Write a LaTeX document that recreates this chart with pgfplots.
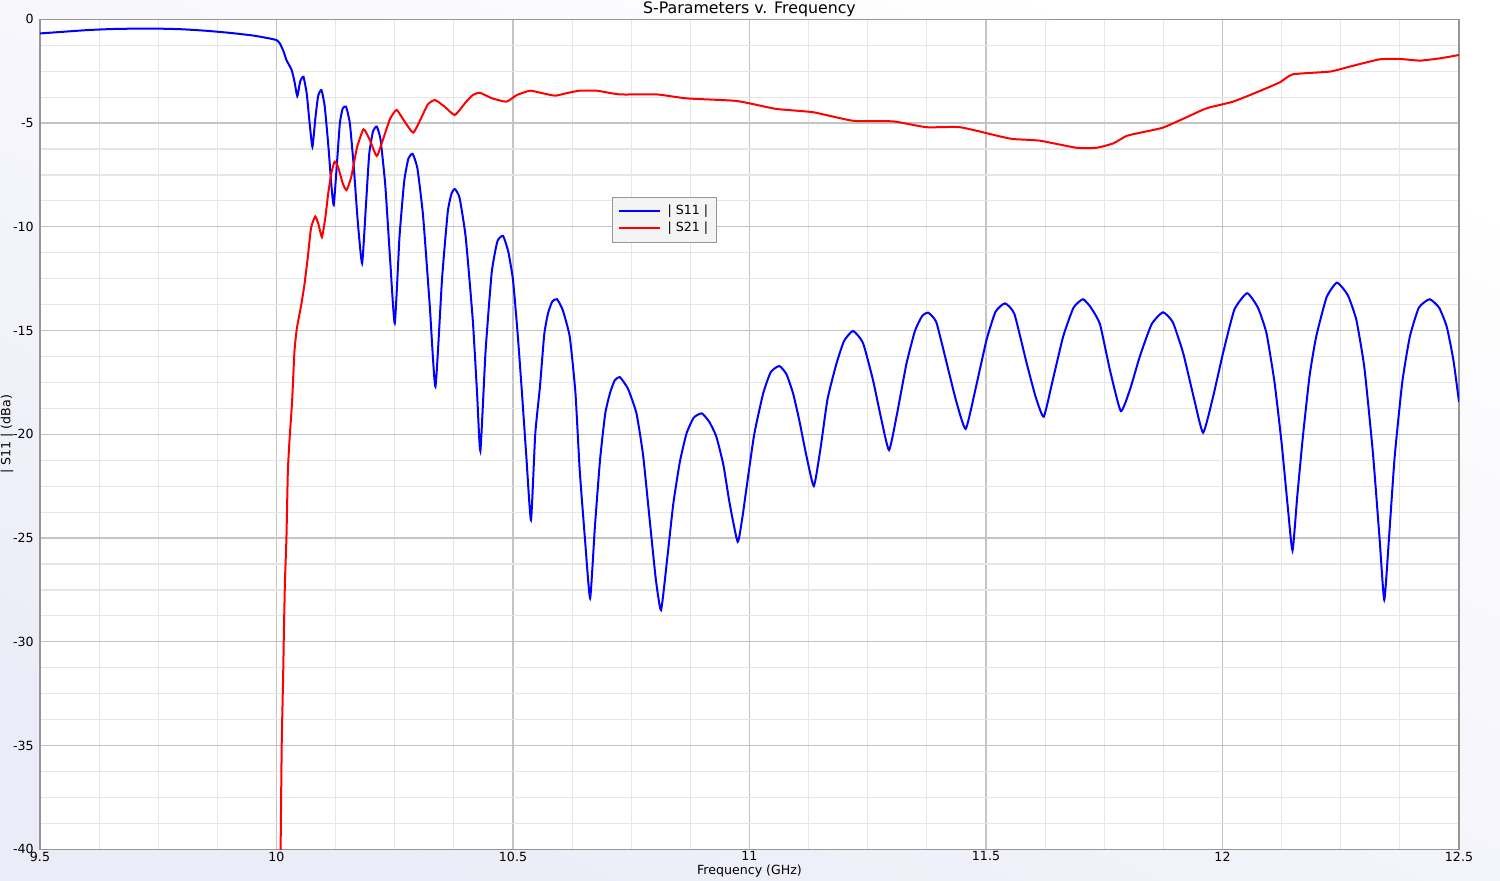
\documentclass[border=0pt]{standalone}
\usepackage{fontspec}
\setmainfont{DejaVu Sans}
\usepackage{pgfplots}
\pgfplotsset{compat=1.18}
\definecolor{bgc}{RGB}{236,236,248}
\definecolor{majgrid}{RGB}{196,196,196}
\definecolor{mingrid}{RGB}{230,230,230}
\definecolor{framec}{RGB}{150,150,150}
\definecolor{legfill}{RGB}{244,244,244}

\begin{document}
\begin{tikzpicture}
\shade[top color=white, bottom color=bgc, shading angle=-25] (-20pt,-15.35pt) rectangle (730pt,424.65pt);
\begin{axis}[
  at={(0,0)}, anchor=south west,
  scale only axis, width=709.5pt, height=415pt,
  axis background/.style={fill=white},
  xmin=9.5, xmax=12.5, ymin=-40, ymax=0,
  xtick={9.5,10,10.5,11,11.5,12,12.5},
  ytick={-40,-35,-30,-25,-20,-15,-10,-5,0},
  minor tick num=3,
  grid=both,
  major grid style={majgrid, line width=0.6pt},
  minor grid style={mingrid, line width=0.6pt},
  axis line style={framec, line width=0.8pt},
  major tick length=0pt, minor tick length=0pt,
  tick label style={font=\fontsize{6.3}{7}\selectfont},
  /pgf/number format/assume math mode=true,
  xticklabel style={anchor=north, inner sep=1pt},
  yticklabel style={anchor=east, inner sep=3pt},
  title={S-Parameters v. Frequency},
  every axis title shift=0pt,
  title style={at={(axis description cs:0.5,1.012)}, anchor=center, font=\fontsize{7.9}{9}\selectfont},
  xlabel={Frequency (GHz)},
  xlabel style={at={(axis description cs:0.5,-0.0265)}, anchor=center, font=\fontsize{6.3}{7}\selectfont},
  ylabel={| S11 | (dBa)},
  ylabel style={at={(axis description cs:-0.0233,0.5)}, anchor=center, rotate=0, font=\fontsize{6.3}{7}\selectfont},
  legend style={at={(0.403,0.786)}, anchor=north west, fill=legfill, draw=framec,
    font=\fontsize{6.3}{7}\selectfont, row sep=0pt, inner xsep=3pt, inner ysep=2.5pt,
    nodes={inner sep=1.2pt}},
  legend cell align=left,
  legend image code/.code={\draw[#1] (0pt,0pt) -- (20.5pt,0pt);},
]
\addplot[blue, line width=1pt, smooth, tension=0.3] table {
9.500 -0.68
9.550 -0.60
9.600 -0.52
9.650 -0.47
9.700 -0.45
9.750 -0.45
9.800 -0.48
9.850 -0.55
9.900 -0.65
9.950 -0.78
9.980 -0.90
10.000 -1.00
10.007 -1.16
10.015 -1.55
10.021 -1.96
10.032 -2.44
10.038 -3.00
10.044 -3.70
10.050 -3.00
10.057 -2.77
10.064 -3.60
10.070 -5.00
10.076 -6.14
10.082 -4.80
10.088 -3.70
10.095 -3.41
10.102 -4.20
10.110 -6.20
10.116 -8.00
10.121 -8.95
10.127 -7.20
10.134 -5.00
10.140 -4.30
10.147 -4.21
10.155 -5.00
10.163 -7.00
10.172 -9.80
10.181 -11.76
10.189 -9.00
10.196 -6.50
10.204 -5.40
10.212 -5.17
10.220 -5.80
10.230 -8.00
10.240 -11.50
10.250 -14.65
10.260 -10.50
10.270 -7.80
10.279 -6.70
10.288 -6.49
10.298 -7.20
10.310 -9.50
10.324 -13.80
10.336 -17.70
10.350 -12.50
10.362 -9.30
10.370 -8.40
10.377 -8.18
10.387 -8.60
10.400 -10.50
10.415 -14.50
10.424 -18.00
10.431 -20.80
10.442 -16.00
10.455 -12.20
10.467 -10.70
10.479 -10.44
10.490 -11.20
10.500 -12.56
10.510 -15.20
10.518 -17.70
10.528 -21.00
10.538 -24.13
10.547 -20.00
10.557 -17.70
10.566 -15.20
10.574 -14.17
10.583 -13.60
10.593 -13.49
10.605 -14.00
10.620 -15.30
10.632 -18.00
10.641 -21.72
10.652 -25.00
10.663 -27.90
10.673 -24.50
10.684 -21.24
10.695 -19.00
10.705 -18.02
10.715 -17.40
10.726 -17.25
10.743 -17.80
10.761 -18.99
10.775 -21.00
10.789 -24.13
10.802 -27.00
10.813 -28.47
10.826 -26.00
10.839 -23.33
10.853 -21.30
10.867 -19.95
10.882 -19.20
10.899 -18.99
10.915 -19.40
10.930 -20.12
10.945 -21.50
10.958 -23.33
10.975 -25.18
10.985 -24.00
10.994 -22.53
11.010 -20.00
11.029 -18.02
11.045 -17.00
11.063 -16.71
11.078 -17.10
11.092 -18.02
11.105 -19.30
11.120 -21.00
11.136 -22.49
11.150 -20.70
11.165 -18.30
11.184 -16.58
11.200 -15.50
11.219 -15.02
11.240 -15.60
11.261 -17.38
11.278 -19.20
11.295 -20.76
11.312 -19.00
11.332 -16.58
11.350 -15.00
11.365 -14.30
11.378 -14.14
11.395 -14.60
11.417 -16.58
11.437 -18.40
11.457 -19.74
11.478 -17.80
11.501 -15.46
11.520 -14.10
11.540 -13.69
11.560 -14.20
11.586 -16.58
11.605 -18.20
11.622 -19.15
11.640 -17.50
11.663 -15.30
11.685 -13.90
11.705 -13.49
11.722 -13.90
11.741 -14.70
11.762 -16.90
11.785 -18.88
11.805 -17.80
11.825 -16.26
11.850 -14.70
11.874 -14.12
11.895 -14.60
11.917 -16.10
11.940 -18.30
11.959 -19.92
11.980 -18.20
12.001 -16.10
12.025 -14.00
12.052 -13.20
12.075 -13.90
12.093 -15.13
12.110 -17.50
12.125 -20.43
12.138 -23.50
12.148 -25.60
12.158 -23.00
12.170 -20.10
12.184 -17.20
12.198 -15.30
12.220 -13.40
12.242 -12.69
12.265 -13.30
12.283 -14.49
12.300 -16.80
12.318 -20.90
12.332 -25.00
12.342 -27.98
12.352 -25.00
12.364 -21.08
12.380 -17.50
12.396 -15.30
12.415 -13.90
12.438 -13.49
12.458 -13.90
12.474 -14.81
12.488 -16.40
12.500 -18.43
};
\addlegendentry{\hspace{2pt}| S11 |\hspace{8pt}}
\addplot[red, line width=1pt, smooth, tension=0.3] table {
10.0085 -40.50
10.011 -35.00
10.014 -31.70
10.016 -29.10
10.018 -27.00
10.021 -25.00
10.024 -21.80
10.028 -20.10
10.033 -18.40
10.038 -16.00
10.043 -14.90
10.052 -13.80
10.059 -12.80
10.066 -11.50
10.073 -10.06
10.082 -9.50
10.089 -9.90
10.096 -10.50
10.103 -9.60
10.109 -8.45
10.116 -7.40
10.123 -6.86
10.130 -7.10
10.140 -7.90
10.148 -8.23
10.158 -7.60
10.170 -6.20
10.184 -5.30
10.197 -5.80
10.212 -6.59
10.225 -5.80
10.240 -4.80
10.254 -4.37
10.270 -4.90
10.289 -5.46
10.305 -4.80
10.320 -4.10
10.335 -3.89
10.355 -4.20
10.377 -4.61
10.400 -4.00
10.415 -3.65
10.430 -3.54
10.455 -3.80
10.486 -3.97
10.508 -3.65
10.536 -3.44
10.560 -3.55
10.589 -3.68
10.615 -3.55
10.641 -3.44
10.677 -3.44
10.726 -3.62
10.804 -3.62
10.867 -3.81
10.966 -3.92
11.000 -4.05
11.057 -4.32
11.135 -4.48
11.219 -4.89
11.304 -4.92
11.374 -5.20
11.445 -5.20
11.529 -5.64
11.557 -5.77
11.614 -5.85
11.691 -6.19
11.734 -6.19
11.769 -5.98
11.797 -5.62
11.825 -5.47
11.874 -5.22
11.924 -4.72
11.966 -4.29
12.022 -3.97
12.072 -3.52
12.121 -3.04
12.149 -2.65
12.227 -2.52
12.269 -2.28
12.332 -1.93
12.375 -1.91
12.417 -1.99
12.460 -1.88
12.500 -1.72
};
\addlegendentry{\hspace{2pt}| S21 |\hspace{8pt}}
\end{axis}
\pgfresetboundingbox
\useasboundingbox (-20pt,-15.35pt) rectangle (730pt,424.65pt);
\end{tikzpicture}
\end{document}
